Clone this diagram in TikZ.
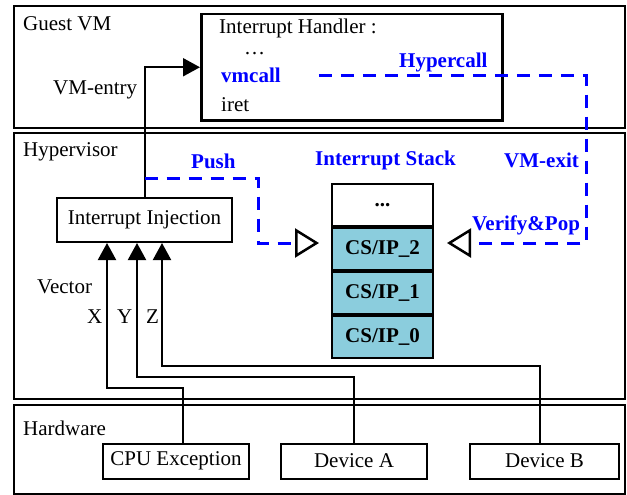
\documentclass[tikz,border=0pt]{standalone}
\usepackage{fontspec}
\setmainfont{Liberation Serif}
\usetikzlibrary{positioning,arrows.meta,calc}
\definecolor{ink}      {HTML}{000000}
\definecolor{callblue} {HTML}{0000FF}
\definecolor{stackfill}{HTML}{8BCDDD}
\tikzset{
  every node/.style={font=\fontsize{21}{24}\selectfont},
  % --- nodes
  layer/.style = {draw=ink, line width=2pt, anchor=north west, inner sep=0pt},
  blk/.style   = {draw=ink, line width=2pt, fill=white, inner sep=0pt},
  cell/.style  = {blk, fill=stackfill, font=\fontsize{21}{24}\selectfont\bfseries,
                  minimum width=101pt, minimum height=42pt},
  lbl/.style   = {anchor=base west, inner sep=0pt},
  call/.style  = {lbl, text=callblue, font=\fontsize{21}{24}\selectfont\bfseries},
  % --- edges
  e/.style     = {-{Triangle[length=17pt,width=18pt]}, line width=2pt, draw=ink},
  ed/.style    = {-{Triangle[length=24pt,width=29pt,color=ink,fill=white,line width=2.5pt]},
                  line width=3pt, draw=callblue, dash pattern=on 13pt off 9pt,
                  shorten >=12pt},
}

\begin{document}
\begin{tikzpicture}[x=1pt,y=-1pt]
  \useasboundingbox (0,0) rectangle (627,495);
  % layers
  \node[layer, minimum width=611pt, minimum height=122pt] (guest) at (13,5) {};
  \node[layer, minimum width=611pt, minimum height=266pt] (hyp)   at (13,132) {};
  \node[layer, minimum width=611pt, minimum height=89pt]  (hw)    at (13,404) {};
  \node[lbl] (guestlbl) at (23,31)  {Guest VM};
  \node[lbl] (hyplbl)   at (23,157) {Hypervisor};
  \node[lbl] (hwlbl)    at (23,435) {Hardware};
  % guest side
  \node[blk, fill=none, line width=2.5pt, anchor=north west,
        minimum width=301pt, minimum height=106pt] (handler) at (200,13) {};
  \node[lbl]  (hdtitle) at (219,34)  {Interrupt Handler :};
  \node[lbl]  (hddots)  at (244,55)  {…};
  \node[call] (vmcall)  at (221,83)  {vmcall};
  \node[lbl]  (iret)    at (221,111) {iret};
  \node[lbl]  (entrylbl) at (53,95)  {VM-entry};
  \node[call] (hcalllbl) at (399,67) {Hypercall};
  % hypervisor side
  \node[blk, minimum width=175pt, minimum height=44pt] (inj) at (144.5,220) {Interrupt Injection};
  \node[cell, fill=white] (stk3) at (382.5,205) {...};
  \node[cell, below=0pt of stk3] (stk2) {CS/IP\_2};
  \node[cell, below=0pt of stk2] (stk1) {CS/IP\_1};
  \node[cell, below=0pt of stk1] (stk0) {CS/IP\_0};
  \node[call] (stacklbl) at (315,165) {Interrupt Stack};
  \node[call] (pushlbl)  at (191,168) {Push};
  \node[call] (exitlbl)  at (504,167) {VM-exit};
  \node[call] (poplbl)   at (472,230) {Verify\&Pop};
  \node[lbl] (veclbl) at (37,293)  {Vector};
  \node[lbl] (vx)     at (87,323)  {X};
  \node[lbl] (vy)     at (117,323) {Y};
  \node[lbl] (vz)     at (146,323) {Z};
  % hardware
  \node[blk, minimum width=146pt, minimum height=35pt] (cpu)  at (176,461)   {CPU Exception};
  \node[blk, minimum width=146pt, minimum height=35pt] (devA) at (354,461)   {Device A};
  \node[blk, minimum width=149pt, minimum height=35pt] (devB) at (544.5,461) {Device B};

  % vectors into the injection
  \draw[e] ([xshift=7pt]cpu.north) -- ++(0,-55) -| ([xshift=-37.5pt]inj.south);
  \draw[e] (devA.north) -- ++(0,-66) -| ([xshift=-7.5pt]inj.south);
  \draw[e] ([xshift=-4.5pt]devB.north) -- ++(0,-77) -| ([xshift=17.5pt]inj.south);
  \draw[e] (inj.north) |- (handler.west);
  % push / pop on the stack
  \draw[ed] ($(inj.north)+(0,-19)$) -| ($(stk2.west)+(-73,-6)$) -- ($(stk2.west)+(0,-6)$);
  \draw[ed, shorten >=13pt] ($(vmcall.east)+(38,0)$) -| ($(stk2.east)+(152,-6)$) -- ($(stk2.east)+(0,-6)$);
\end{tikzpicture}
\end{document}
